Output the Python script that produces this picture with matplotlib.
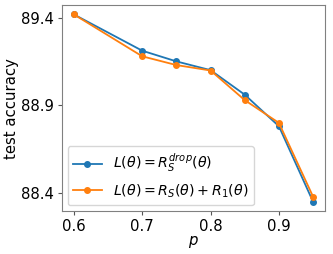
import matplotlib
matplotlib.use("Agg")
import matplotlib.pyplot as plt

p = [0.6, 0.7, 0.75, 0.8, 0.85, 0.9, 0.95]
acc_drop = [89.419, 89.212, 89.151, 89.101, 88.961, 88.781, 88.35]
acc_r1 = [89.419, 89.18, 89.13, 89.099, 88.93, 88.80, 88.379]
labels = [r"$L(\theta)=R_S^{drop}(\theta)$", r"$L(\theta)=R_S(\theta)+R_1(\theta)$"]
yticks = [88.4, 88.9, 89.4]
xticks = [0.6, 0.7, 0.8, 0.9]

fig = plt.figure(figsize=(3.33, 2.54), dpi=100)
ax = fig.add_axes([0.186, 0.169, 0.790, 0.811])
ax.plot(p, acc_drop, marker="o", markersize=4, lw=1.3, color="#1f77b4", label=labels[0])
ax.plot(p, acc_r1, marker="o", markersize=4, lw=1.3, color="#ff7f0e", label=labels[1])
ax.set_yticks(yticks)
ax.set_yticklabels([f"{v:.1f}" for v in yticks])
ax.set_xticks(xticks)
ax.set_xticklabels([f"{v:.1f}" for v in xticks])
ax.tick_params(labelsize=10.7, length=3, color="#555555", pad=2.5)
ax.set_xlabel(r"$p$", fontsize=10.7, labelpad=0)
ax.set_ylabel("test accuracy", fontsize=10.7, labelpad=2)
for s in ax.spines.values():
    s.set_color("#808080")
ax.legend(loc="lower left", fontsize=10.2, handlelength=2, borderaxespad=0.4)
fig.savefig("out.png", dpi=100)
